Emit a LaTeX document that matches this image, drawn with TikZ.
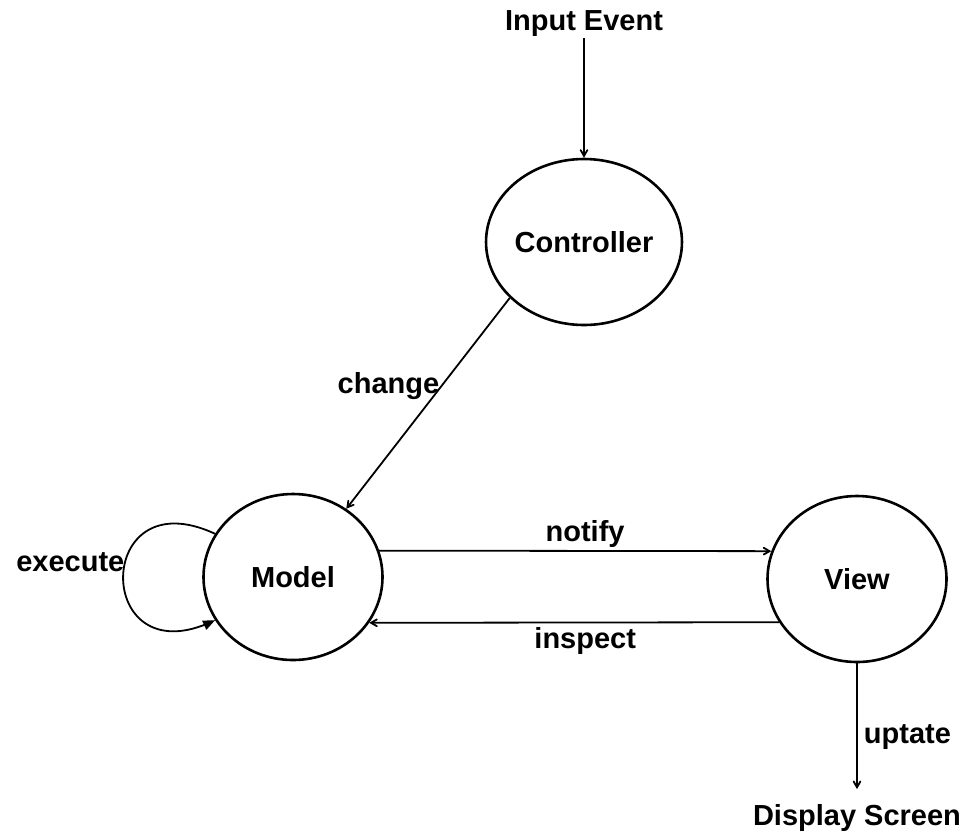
\documentclass[tikz,border=0pt]{standalone}
\usepackage{fontspec}
\setmainfont{Liberation Sans}
\usetikzlibrary{arrows,shapes}

\begin{document}
\begin{tikzpicture}
  [x=1pt,y=1pt,line width=1.8pt,
   every node/.style={font=\fontsize{29}{34}\selectfont\bfseries},
   state/.style={ellipse,draw,line width=2.6pt,inner sep=0pt,
                 minimum width=179pt,minimum height=166pt},
   plain/.style={inner sep=0pt}]
  \useasboundingbox (0,0) rectangle (966,-831);

  \node[state] (n1) at (584,-242) {Controller};
  \node[state] (n2) at (293,-577) {Model};
  \node[state] (n3) at (857,-579) {View};
  \node[plain] (n4) at (584,-24)  {Input Event};
  \node[plain,anchor=base] (n5) at (857,-825) {Display Screen};

  \draw[arrows={-{angle 60}}] (n4) -- (n1);
  \draw[arrows={-{angle 60}}] (n1.217) -- node[left,pos=.42,inner sep=1pt] {change} (n2.52);
  \draw[arrows={-{angle 60}}] (n2.17) -- node[above,pos=.525,inner sep=3pt] {notify} (n3.162.5);
  \draw[arrows={-{angle 60}}] (n3.209.5) -- node[below,pos=.473,inner sep=4pt] {inspect} (n2.-31.4);
  \draw[arrows={-{angle 60}},shorten >=14pt] (n3) -- node[right,pos=.53,inner sep=6pt] {uptate} (n5);
  \draw[arrows={-{triangle 45}}] (n2.151) to [out=155,in=205,looseness=4]
    node[left,pos=.43,inner sep=0pt] {execute} (n2.209);
\end{tikzpicture}
\end{document}
